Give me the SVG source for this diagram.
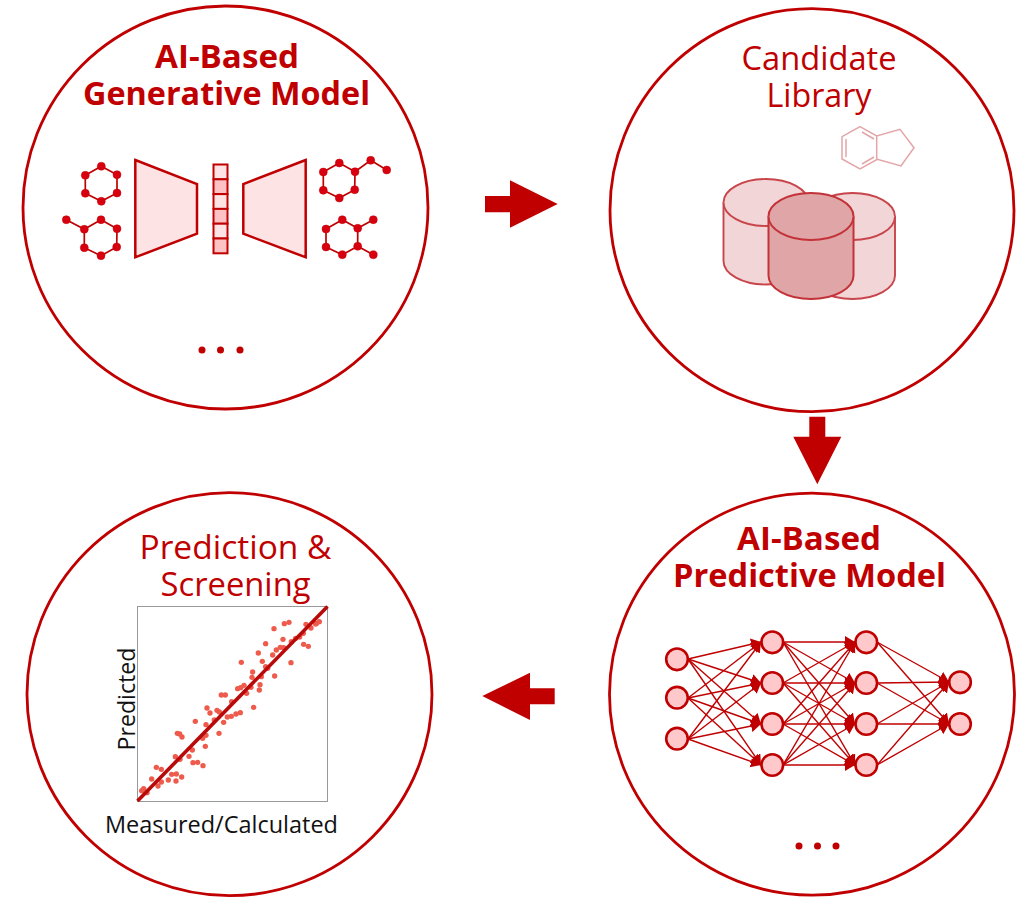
<svg xmlns="http://www.w3.org/2000/svg" width="1025" height="901" viewBox="0 0 1025 901">
<style>
.ring{fill:#fff;stroke:#c00000;stroke-width:2.8}
.t{font-family:"Open Sans","Noto Sans",sans-serif;font-size:32px;fill:#c00000;text-anchor:middle}
.b{font-weight:700}
.k{font-family:"Open Sans","Noto Sans",sans-serif;font-size:23px;fill:#111;text-anchor:middle}
.big{fill:#c00000}
.mol path{fill:none;stroke:#c00000;stroke-width:1.7}
.mol circle{fill:#d80010;stroke:#c00000;stroke-width:.5}
.trap{fill:#fde3e4;stroke:#c00000;stroke-width:2.5}
.c0{fill:#fde3e4;stroke:#c00000;stroke-width:2}
.c1{fill:#fdc2c4;stroke:#c00000;stroke-width:2}
.cylL path{fill:#f2d5d6;stroke:#c7454b;stroke-width:1.9}
.cylF path{fill:#e0a5a6;stroke:#c23238;stroke-width:2}
.n{fill:#ffc9cb;stroke:#c00000;stroke-width:2.6}
#connectors line{stroke:#c00000;stroke-width:1.4;marker-end:url(#h)}
.p{fill:#ee5a4c}
</style>
<defs>
<marker id="h" markerUnits="userSpaceOnUse" markerWidth="12" markerHeight="14" refX="10" refY="6" orient="auto"><path d="M0 0L10 6L0 12Z" fill="#c00000"/></marker>
</defs>

<g id="generative-model">
<ellipse class="ring" cx="225.500" cy="207.500" rx="202.500" ry="201.500"/>
<text class="t b" x="227" y="68" textLength="144" lengthAdjust="spacingAndGlyphs">AI-Based</text>
<text class="t b" x="226.500" y="105" textLength="287" lengthAdjust="spacingAndGlyphs">Generative Model</text>
<g class="mol">
<path d="M101.300 166.300L117 174.700V193L101.300 201.300L85.300 193.300V175.300Z"/>
<circle cx="101.300" cy="166.300" r="4"/><circle cx="117" cy="174.700" r="4"/><circle cx="117" cy="193" r="4"/><circle cx="101.300" cy="201.300" r="4"/><circle cx="85.300" cy="193.300" r="4"/><circle cx="85.300" cy="175.300" r="4"/>
<path d="M66.300 219.700L84.300 229.300L101 219.700L117 228.700L116.700 247L101 255.700L84.300 247.700V229.300"/>
<circle cx="66.300" cy="219.700" r="4"/><circle cx="84.300" cy="229.300" r="4"/><circle cx="101" cy="219.700" r="4"/><circle cx="117" cy="228.700" r="4"/><circle cx="116.700" cy="247" r="4"/><circle cx="101" cy="255.700" r="4"/><circle cx="84.300" cy="247.700" r="4"/>
<path d="M386.700 170L370.700 160.300L355 171.700L339.300 163L323.300 172V190.300L339.300 198L354.700 189.700L355 171.700"/>
<circle cx="323.300" cy="172" r="4"/><circle cx="339.300" cy="163" r="4"/><circle cx="355" cy="171.700" r="4"/><circle cx="354.700" cy="189.700" r="4"/><circle cx="339.300" cy="198" r="4"/><circle cx="323.300" cy="190.300" r="4"/><circle cx="370.700" cy="160.300" r="4"/><circle cx="386.700" cy="170" r="4"/>
<path d="M326 229L342.300 219.700L357.700 228.300V246.300L342.300 254.700L326 247ZM357.700 228.300L373.300 219.700M357.700 246.300L373.300 254.700"/>
<circle cx="326" cy="229" r="4"/><circle cx="342.300" cy="219.700" r="4"/><circle cx="357.700" cy="228.300" r="4"/><circle cx="357.700" cy="246.300" r="4"/><circle cx="342.300" cy="254.700" r="4"/><circle cx="326" cy="247" r="4"/><circle cx="373.300" cy="219.700" r="4"/><circle cx="373.300" cy="254.700" r="4"/>
</g>
<path class="trap" d="M135.300 160L197 184V233.700L135.300 257.300Z"/>
<path class="trap" d="M305.700 160L243.300 184V233.700L305.700 257.300Z"/>
<rect class="c0" x="213.500" y="164.500" width="14" height="14.800"/>
<rect class="c1" x="213.500" y="179.300" width="14" height="14.800"/>
<rect class="c0" x="213.500" y="194.100" width="14" height="14.800"/>
<rect class="c1" x="213.500" y="208.900" width="14" height="14.800"/>
<rect class="c0" x="213.500" y="223.700" width="14" height="14.800"/>
<rect class="c1" x="213.500" y="238.500" width="14" height="14.800"/>
<circle class="big" cx="202" cy="350" r="3.500"/><circle class="big" cx="220.500" cy="350" r="3.500"/><circle class="big" cx="240" cy="350" r="3.500"/>
</g>

<g id="candidate-library">
<ellipse class="ring" cx="812" cy="210.200" rx="202" ry="201.500"/>
<text class="t" x="819" y="70" textLength="155" lengthAdjust="spacingAndGlyphs">Candidate</text>
<text class="t" x="819" y="107" textLength="105" lengthAdjust="spacingAndGlyphs">Library</text>
<path d="M860 126.700L876.700 136L900 129.300L914 147.700L901 166L877.300 159.300L860 169L842 159V136.700ZM876.700 136V159.300M846 139V157M862 132L874 139M862 164L874 157" fill="none" stroke="#e3a5a8" stroke-width="1.500"/>
<g class="cylL">
<path d="M723.500 202.500A42.500 23.500 0 0 1 808.500 202.500V261A42.500 23.500 0 0 1 723.500 261Z"/>
<path d="M723.500 202.500A42.500 23.500 0 0 0 808.500 202.500" fill="none"/>
<path d="M810 216.500A42.500 23.500 0 0 1 895 216.500V275.500A42.500 23.500 0 0 1 810 275.500Z"/>
<path d="M810 216.500A42.500 23.500 0 0 0 895 216.500" fill="none"/>
</g>
<g class="cylF">
<path d="M768.500 216.500A42.500 23.500 0 0 1 853.500 216.500V275.500A42.500 23.500 0 0 1 768.500 275.500Z"/>
<path d="M768.500 216.500A42.500 23.500 0 0 0 853.500 216.500" fill="none"/>
</g>
</g>

<g id="predictive-model">
<ellipse class="ring" cx="812" cy="694.200" rx="202.500" ry="201"/>
<text class="t b" x="809" y="550" textLength="144" lengthAdjust="spacingAndGlyphs">AI-Based</text>
<text class="t b" x="809.500" y="587" textLength="273" lengthAdjust="spacingAndGlyphs">Predictive Model</text>
<circle class="big" cx="799" cy="846" r="3.500"/><circle class="big" cx="817.500" cy="846" r="3.500"/><circle class="big" cx="836" cy="846" r="3.500"/>
</g>

<g id="connectors">
<line x1="688" y1="659" x2="761" y2="642"/><line x1="688" y1="659" x2="761" y2="683"/><line x1="688" y1="659" x2="761" y2="724"/><line x1="688" y1="659" x2="761" y2="765"/>
<line x1="688" y1="698" x2="761" y2="642"/><line x1="688" y1="698" x2="761" y2="683"/><line x1="688" y1="698" x2="761" y2="724"/><line x1="688" y1="698" x2="761" y2="765"/>
<line x1="688" y1="739" x2="761" y2="642"/><line x1="688" y1="739" x2="761" y2="683"/><line x1="688" y1="739" x2="761" y2="724"/><line x1="688" y1="739" x2="761" y2="765"/>
<line x1="783" y1="642" x2="855" y2="642"/><line x1="783" y1="642" x2="855" y2="683"/><line x1="783" y1="642" x2="855" y2="724"/><line x1="783" y1="642" x2="855" y2="765"/>
<line x1="783" y1="683" x2="855" y2="642"/><line x1="783" y1="683" x2="855" y2="683"/><line x1="783" y1="683" x2="855" y2="724"/><line x1="783" y1="683" x2="855" y2="765"/>
<line x1="783" y1="724" x2="855" y2="642"/><line x1="783" y1="724" x2="855" y2="683"/><line x1="783" y1="724" x2="855" y2="724"/><line x1="783" y1="724" x2="855" y2="765"/>
<line x1="783" y1="765" x2="855" y2="642"/><line x1="783" y1="765" x2="855" y2="683"/><line x1="783" y1="765" x2="855" y2="724"/><line x1="783" y1="765" x2="855" y2="765"/>
<line x1="877" y1="642" x2="949" y2="682"/><line x1="877" y1="642" x2="949" y2="724"/>
<line x1="877" y1="683" x2="949" y2="682"/><line x1="877" y1="683" x2="949" y2="724"/>
<line x1="877" y1="724" x2="949" y2="682"/><line x1="877" y1="724" x2="949" y2="724"/>
<line x1="877" y1="765" x2="949" y2="682"/><line x1="877" y1="765" x2="949" y2="724"/>
<path class="big" d="M485 196H510V180.300L557.700 204L510 227.700V212.300H485Z"/>
<path class="big" d="M809.300 416.700H825.300V436.700H841.300L817.300 484.300L793.300 436.700H809.300Z"/>
<path class="big" d="M554.700 688.300H530V672.700L482.300 696L530 720V704.300H554.700Z"/>
</g>

<g id="network-nodes">
<circle class="n" cx="677" cy="659.300" r="10.800"/><circle class="n" cx="677" cy="697.700" r="10.800"/><circle class="n" cx="677" cy="738.700" r="10.800"/>
<circle class="n" cx="772.300" cy="642.300" r="10.800"/><circle class="n" cx="772.300" cy="683" r="10.800"/><circle class="n" cx="772.300" cy="724" r="10.800"/><circle class="n" cx="772.300" cy="765" r="10.800"/>
<circle class="n" cx="866.300" cy="642.300" r="10.800"/><circle class="n" cx="866.300" cy="683" r="10.800"/><circle class="n" cx="866.300" cy="724" r="10.800"/><circle class="n" cx="866.300" cy="765" r="10.800"/>
<circle class="n" cx="960" cy="682.300" r="10.800"/><circle class="n" cx="960" cy="724" r="10.800"/>
</g>

<g id="prediction-screening">
<ellipse class="ring" cx="229.500" cy="694.200" rx="202.500" ry="201.500"/>
<text class="t" x="235.500" y="559" textLength="192" lengthAdjust="spacingAndGlyphs">Prediction &amp;</text>
<text class="t" x="235.500" y="596" textLength="150" lengthAdjust="spacingAndGlyphs">Screening</text>
<rect x="137.500" y="606.500" width="190" height="195" fill="#fff" stroke="#999" stroke-width="1"/>
<g transform="translate(100 600) scale(.3333)">
<circle class="p" cx="522" cy="86" r="8"/><circle class="p" cx="553" cy="71" r="8"/><circle class="p" cx="567" cy="67" r="8"/><circle class="p" cx="650" cy="70" r="8"/><circle class="p" cx="658" cy="65" r="8"/><circle class="p" cx="647" cy="72" r="8"/><circle class="p" cx="618" cy="73" r="8"/><circle class="p" cx="633" cy="84" r="8"/><circle class="p" cx="497" cy="131" r="8"/><circle class="p" cx="549" cy="118" r="8"/><circle class="p" cx="475" cy="159" r="8"/><circle class="p" cx="529" cy="150" r="8"/><circle class="p" cx="541" cy="142" r="8"/><circle class="p" cx="551" cy="143" r="8"/><circle class="p" cx="518" cy="165" r="8"/><circle class="p" cx="424" cy="187" r="8"/><circle class="p" cx="487" cy="184" r="8"/><circle class="p" cx="573" cy="188" r="8"/><circle class="p" cx="611" cy="133" r="8"/><circle class="p" cx="625" cy="139" r="8"/><circle class="p" cx="599" cy="111" r="8"/><circle class="p" cx="587" cy="115" r="8"/><circle class="p" cx="574" cy="125" r="8"/><circle class="p" cx="610" cy="100" r="8"/><circle class="p" cx="458" cy="216" r="8"/><circle class="p" cx="456" cy="232" r="8"/><circle class="p" cx="484" cy="230" r="8"/><circle class="p" cx="524" cy="228" r="8"/><circle class="p" cx="503" cy="205" r="8"/><circle class="p" cx="497" cy="200" r="8"/><circle class="p" cx="480" cy="254" r="8"/><circle class="p" cx="478" cy="270" r="8"/><circle class="p" cx="453" cy="262" r="8"/><circle class="p" cx="432" cy="256" r="8"/><circle class="p" cx="422" cy="263" r="8"/><circle class="p" cx="413" cy="266" r="8"/><circle class="p" cx="364" cy="285" r="8"/><circle class="p" cx="376" cy="285" r="8"/><circle class="p" cx="461" cy="322" r="8"/><circle class="p" cx="421" cy="338" r="8"/><circle class="p" cx="408" cy="342" r="8"/><circle class="p" cx="394" cy="349" r="8"/><circle class="p" cx="382" cy="351" r="8"/><circle class="p" cx="371" cy="367" r="8"/><circle class="p" cx="321" cy="324" r="8"/><circle class="p" cx="330" cy="339" r="8"/><circle class="p" cx="351" cy="331" r="8"/><circle class="p" cx="358" cy="336" r="8"/><circle class="p" cx="343" cy="360" r="8"/><circle class="p" cx="286" cy="364" r="8"/><circle class="p" cx="318" cy="374" r="8"/><circle class="p" cx="232" cy="400" r="8"/><circle class="p" cx="239" cy="402" r="8"/><circle class="p" cx="246" cy="411" r="8"/><circle class="p" cx="357" cy="400" r="8"/><circle class="p" cx="318" cy="406" r="8"/><circle class="p" cx="308" cy="415" r="8"/><circle class="p" cx="316" cy="439" r="8"/><circle class="p" cx="277" cy="450" r="8"/><circle class="p" cx="267" cy="469" r="8"/><circle class="p" cx="226" cy="470" r="8"/><circle class="p" cx="240" cy="478" r="8"/><circle class="p" cx="279" cy="488" r="8"/><circle class="p" cx="293" cy="487" r="8"/><circle class="p" cx="309" cy="497" r="8"/><circle class="p" cx="169" cy="502" r="8"/><circle class="p" cx="184" cy="508" r="8"/><circle class="p" cx="215" cy="523" r="8"/><circle class="p" cx="229" cy="522" r="8"/><circle class="p" cx="245" cy="531" r="8"/><circle class="p" cx="205" cy="540" r="8"/><circle class="p" cx="228" cy="543" r="8"/><circle class="p" cx="155" cy="537" r="8"/><circle class="p" cx="184" cy="546" r="8"/><circle class="p" cx="174" cy="558" r="8"/><circle class="p" cx="131" cy="566" r="8"/><circle class="p" cx="125" cy="572" r="8"/><circle class="p" cx="141" cy="578" r="8"/><circle class="p" cx="395" cy="305" r="8"/><circle class="p" cx="440" cy="280" r="8"/>
</g>
<line x1="137.500" y1="801" x2="327.500" y2="606.500" stroke="#b80a0a" stroke-width="3.600"/>
<text class="k" transform="translate(135 699) rotate(-90)" textLength="103" lengthAdjust="spacingAndGlyphs">Predicted</text>
<text class="k" x="221.500" y="832.500" textLength="233" lengthAdjust="spacingAndGlyphs">Measured/Calculated</text>
</g>
</svg>
